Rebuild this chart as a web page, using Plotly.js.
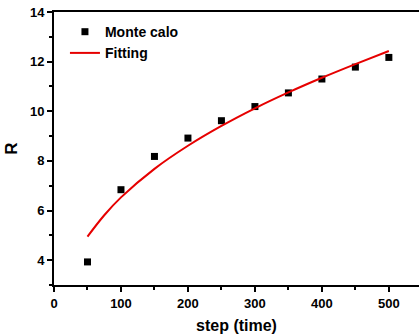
<!DOCTYPE html>
<html><head><meta charset="utf-8">
<script src="https://cdn.plot.ly/plotly-3.0.1.min.js"></script>
<style>html,body{margin:0;padding:0;background:#fff}</style>
</head><body>
<div id="chart" style="width:419px;height:336px"></div>
<script>
var steps = [50, 100, 150, 200, 250, 300, 350, 400, 450, 500];
var monteCarlo = [3.93, 6.84, 8.18, 8.92, 9.62, 10.19, 10.74, 11.30, 11.78, 12.17];
var fitSteps = [50, 75, 100, 150, 200, 250, 300, 350, 400, 450, 500];
var fitValues = [4.95, 5.81, 6.53, 7.68, 8.61, 9.41, 10.12, 10.76, 11.35, 11.90, 12.43];
var xTicks = [0, 100, 200, 300, 400, 500];
var yTicks = [4, 6, 8, 10, 12, 14];

var font = 'Liberation Sans, Arial, sans-serif';
var traces = [
  {x: steps, y: monteCarlo, mode: 'markers', type: 'scatter', name: '<b>Monte calo</b>',
   marker: {symbol: 'square', size: 7, color: '#000'}},
  {x: fitSteps, y: fitValues, mode: 'lines', type: 'scatter', name: '<b>Fitting</b>',
   line: {color: 'rgb(230,0,0)', width: 2, shape: 'spline'}}
];
var layout = {
  width: 419, height: 336,
  margin: {l: 54, r: 0, t: 12, b: 51},
  paper_bgcolor: '#fff', plot_bgcolor: '#fff',
  font: {family: font, color: '#000'},
  showlegend: true,
  legend: {x: 0.03, y: 0.985, xanchor: 'left', yanchor: 'top', bgcolor: 'rgba(0,0,0,0)',
           font: {size: 14, family: font, color: '#000'}, tracegroupgap: 0},
  xaxis: {range: [0, 545], tickvals: xTicks, ticktext: xTicks.map(function(v){return '<b>'+v+'</b>';}),
          showgrid: false, zeroline: false, showline: true, linewidth: 2, linecolor: '#000',
          mirror: true, ticks: 'outside', ticklen: 5, tickwidth: 2, tickcolor: '#000',
          minor: {tickvals: [50,150,250,350,450], ticks: 'outside', ticklen: 3, tickwidth: 2, tickcolor: '#000'},
          tickfont: {size: 13, family: font},
          title: {text: '<b>step (time)</b>', font: {size: 16, family: font}, standoff: 10}},
  yaxis: {range: [3, 14], tickvals: yTicks, ticktext: yTicks.map(function(v){return '<b>'+v+'</b>';}),
          showgrid: false, zeroline: false, showline: true, linewidth: 2, linecolor: '#000',
          ticks: 'outside', ticklen: 5, tickwidth: 2, tickcolor: '#000',
          minor: {tickvals: [3,5,7,9,11,13], ticks: 'outside', ticklen: 3, tickwidth: 2, tickcolor: '#000'},
          tickfont: {size: 13, family: font},
          title: {text: '<b>R</b>', font: {size: 17, family: font}, standoff: 8}}
};
Plotly.newPlot('chart', traces, layout, {displayModeBar: false, staticPlot: true});
</script>
</body></html>
